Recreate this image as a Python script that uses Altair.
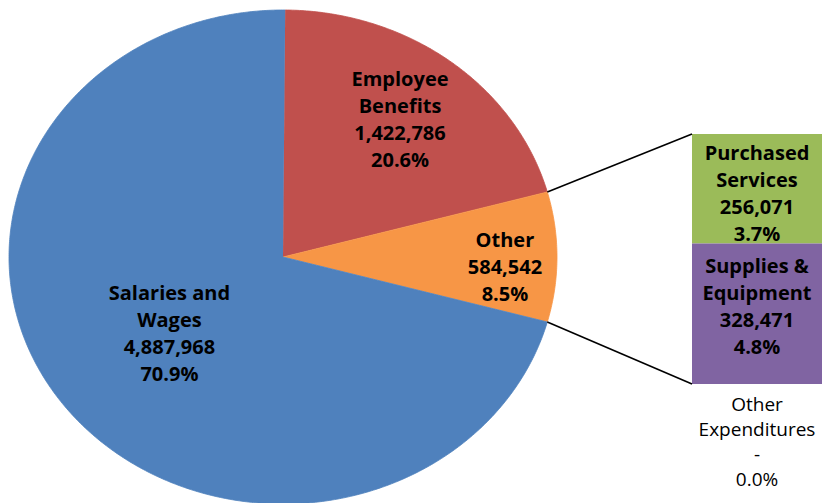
import math
import altair as alt
import pandas as pd

# ---------------- data ----------------
pie_categories = ["Employee Benefits", "Other", "Salaries and Wages"]
pie_values = [1422786, 584542, 4887968]
pie_label_names = ["Employee\nBenefits", "Other", "Salaries and\nWages"]

bar_categories = ["Purchased Services", "Supplies & Equipment", "Other Expenditures"]
bar_values = [256071, 328471, 0]
bar_label_names = ["Purchased\nServices", "Supplies &\nEquipment", "Other\nExpenditures"]

# ---------------- style / layout ----------------
pie_colors = {"Employee Benefits": "#C0504D", "Other": "#F79646", "Salaries and Wages": "#4F81BD"}
bar_colors = {"Purchased Services": "#9BBB59", "Supplies & Equipment": "#8064A2", "Other Expenditures": "#FFFFFF"}
W, H = 822, 503
CX, CY, RX, RY = 283, 257, 274, 247          # pie centre and radii (pixels)
BAR_LEFT, BAR_RIGHT, BAR_TOP, BAR_BOTTOM = 692, 822, 134, 384
label_radius = {"Employee Benefits": 0.70, "Other": 0.81, "Salaries and Wages": 0.52}
label_dy_px = {"Employee Benefits": 0, "Other": 11, "Salaries and Wages": 0,
               "Purchased Services": 6, "Supplies & Equipment": -6}
FONT = "Open Sans"
LH_BOLD = 27


def centre_shift(text):
    """Vertical shift (data units) that centres a multi-line block on its anchor."""
    n = text.count("\n") + 1
    return (n - 1) / 2 * LH_BOLD / RY


# ---------------- geometry derived from the values ----------------
total = sum(pie_values)
fracs = [v / total for v in pie_values]
split = pie_categories.index("Other")
rot = 90 - (sum(fracs[:split]) + fracs[split] / 2) * 360   # split slice centred on the right

slices = []
labels = []
cum = 0.0
edges = {}
for cat, v, f, name in zip(pie_categories, pie_values, fracs, pie_label_names):
    a0 = rot + cum * 360
    a1 = a0 + f * 360
    n = max(4, int(math.ceil((a1 - a0) / 0.5)))
    slices.append({"category": cat, "i": 0, "x": 0.0, "y": 0.0})
    for k in range(n + 1):
        a = math.radians(a0 + (a1 - a0) * k / n)
        slices.append({"category": cat, "i": k + 1, "x": math.sin(a), "y": math.cos(a)})
    am = math.radians((a0 + a1) / 2)
    r = label_radius[cat]
    txt = f"{name}\n{v:,}\n{v / total * 100:.1f}%"
    labels.append({"x": r * math.sin(am),
                   "y": r * math.cos(am) + centre_shift(txt) - label_dy_px[cat] / RY,
                   "text": txt})
    edges[cat] = (a0, a1)
    cum += f
slice_df = pd.DataFrame(slices)
pie_label_df = pd.DataFrame(labels)

bx0 = (BAR_LEFT - CX) / RX
bx1 = (BAR_RIGHT - CX) / RX
byt = (CY - BAR_TOP) / RY
byb = (CY - BAR_BOTTOM) / RY
sub_total = sum(bar_values)
bar_rows, bar_labels, zero_labels = [], [], []
c = 0
for cat, v, name in zip(bar_categories, bar_values, bar_label_names):
    top = byt - c / sub_total * (byt - byb)
    bot = byt - (c + v) / sub_total * (byt - byb)
    bar_rows.append({"category": cat, "x": bx0, "x2": bx1, "y": top, "y2": bot})
    vt = f"{v:,}" if v else "-"
    txt = f"{name}\n{vt}\n{v / total * 100:.1f}%"
    if v:
        bar_labels.append({"x": (bx0 + bx1) / 2,
                           "y": (top + bot) / 2 + centre_shift(txt) - label_dy_px[cat] / RY,
                           "text": txt})
    else:
        zero_labels.append({"x": (bx0 + bx1) / 2, "y": bot, "text": txt})
    c += v
bar_df = pd.DataFrame(bar_rows)
bar_label_df = pd.DataFrame(bar_labels)
zero_label_df = pd.DataFrame(zero_labels)

a0, a1 = edges["Other"]
conn_df = pd.DataFrame([
    {"x": math.sin(math.radians(a0)), "y": math.cos(math.radians(a0)), "x2": bx0, "y2": byt},
    {"x": math.sin(math.radians(a1)), "y": math.cos(math.radians(a1)), "x2": bx0, "y2": byb},
])

# ---------------- chart ----------------
xs = alt.Scale(domain=[-CX / RX, (W - CX) / RX], nice=False, zero=False)
ys = alt.Scale(domain=[(CY - H) / RY, CY / RY], nice=False, zero=False)
X = alt.X("x:Q", scale=xs, axis=None)
Y = alt.Y("y:Q", scale=ys, axis=None)

layers = []
for cat in pie_categories:
    col = pie_colors[cat]
    layers.append(
        alt.Chart(slice_df).transform_filter(alt.datum.category == cat)
        .mark_line(fill=col, stroke=col, strokeWidth=0.8)
        .encode(x=X, y=Y, order="i:Q")
    )

bars = alt.Chart(bar_df).mark_rect().encode(
    x=X, x2="x2:Q", y=Y, y2="y2:Q",
    color=alt.Color("category:N", legend=None,
                    scale=alt.Scale(domain=list(bar_colors.keys()), range=list(bar_colors.values()))),
)

conns = alt.Chart(conn_df).mark_rule(color="black", strokeWidth=1.6).encode(
    x=X, y=Y, x2="x2:Q", y2="y2:Q")

pie_text = alt.Chart(pie_label_df).mark_text(
    font=FONT, fontSize=20, fontWeight="bold", lineBreak="\n", lineHeight=LH_BOLD,
    align="center", baseline="middle", color="black"
).encode(x=X, y=Y, text="text:N")

bar_text = alt.Chart(bar_label_df).mark_text(
    font=FONT, fontSize=20, fontWeight="bold", lineBreak="\n", lineHeight=LH_BOLD,
    align="center", baseline="middle", color="black"
).encode(x=X, y=Y, text="text:N")

zero_text = alt.Chart(zero_label_df).mark_text(
    font=FONT, fontSize=19, fontWeight="normal", lineBreak="\n", lineHeight=25,
    align="center", baseline="top", dy=12, color="black"
).encode(x=X, y=Y, text="text:N")

chart = alt.layer(*layers, bars, conns, pie_text, bar_text, zero_text).properties(
    width=W, height=H, autosize=alt.AutoSizeParams(type="none"), padding=0,
    background="white",
).configure_view(stroke=None)

chart.save("out.html", embed_options={"renderer": "svg", "actions": False})
